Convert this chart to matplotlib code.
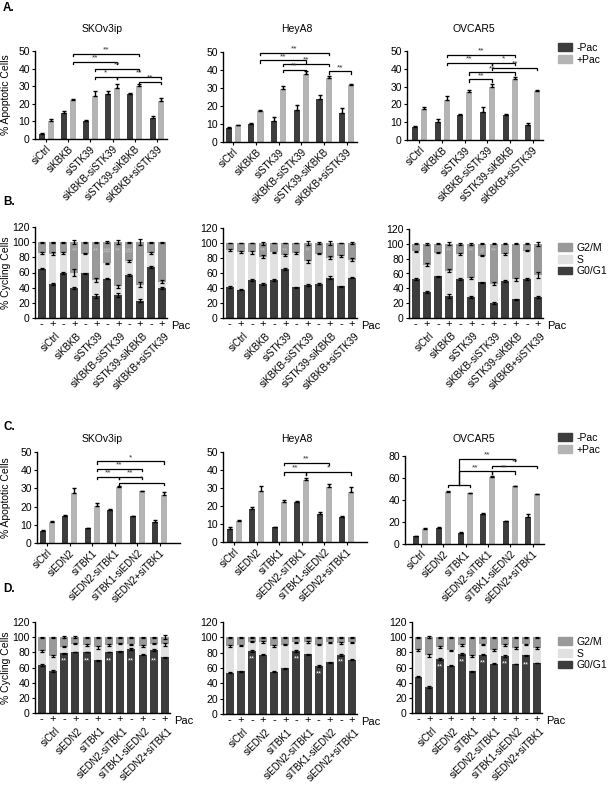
import numpy as np
import matplotlib.pyplot as plt
from matplotlib.patches import Patch

plt.rcParams['font.family'] = ['Liberation Sans', 'DejaVu Sans']

DARK = '#3d3d3d'
LIGHT = '#b4b4b4'
G2M_C = '#999999'
S_C = '#e1e1e1'

W, H = 609, 793

groups_kbkb = ['siCtrl', 'siKBKB', 'siSTK39', 'siKBKB-siSTK39', 'siSTK39-siKBKB', 'siKBKB+siSTK39']
groups_edn = ['siCtrl', 'siEDN2', 'siTBK1', 'siEDN2-siTBK1', 'siTBK1-siEDN2', 'siEDN2+siTBK1']
pac_labels = ['-', '+'] * 6

# ---- A: % apoptotic cells ----
a_sko_minus = [3.0, 15.0, 10.0, 25.5, 25.5, 12.0]
a_sko_minus_err = [0.4, 1.0, 0.6, 1.5, 0.7, 1.0]
a_sko_plus = [10.0, 22.0, 24.5, 29.0, 30.0, 21.5]
a_sko_plus_err = [1.2, 1.0, 2.5, 2.5, 1.2, 1.8]
a_hey_minus = [7.8, 10.2, 11.8, 17.8, 24.0, 16.0]
a_hey_minus_err = [0.4, 0.5, 2.0, 3.0, 2.2, 3.0]
a_hey_plus = [9.2, 17.2, 29.5, 38.0, 35.3, 31.5]
a_hey_plus_err = [0.5, 0.5, 1.5, 1.5, 1.2, 1.0]
a_ovc_minus = [7.5, 10.0, 13.8, 15.5, 14.0, 8.5]
a_ovc_minus_err = [0.4, 2.0, 0.8, 3.0, 0.5, 0.8]
a_ovc_plus = [17.5, 22.5, 27.0, 30.0, 34.5, 27.5]
a_ovc_plus_err = [1.0, 2.5, 1.2, 1.5, 1.0, 0.8]

# brackets: (group a, group b, y, label[, lower end of left leg])
a_sko_brackets = [(1, 4, 48.5, '**'), (1, 3, 44, '**'), (2, 4, 40, '**'),
                  (2, 3, 35.5, '*'), (3, 5, 35.5, '**'), (4, 5, 32.5, '**')]
a_hey_brackets = [(1, 4, 49.4, '**'), (1, 3, 45.3, '**'), (2, 4, 43.5, '**'),
                  (2, 3, 40.1, '**'), (4, 5, 39.2, '**')]
a_ovc_brackets = [(1, 4, 48, '**'), (1, 3, 43.5, '**'), (3, 4, 43.5, '*'),
                  (3, 5, 40.5, '**'), (2, 4, 38, '**'), (2, 3, 34, '**')]

# ---- B: cell cycle ----
b_sko_g1 = [65, 44.5, 59, 39.5, 59, 28.5, 52, 30.5, 56.5, 23, 67, 40]
b_sko_s = [21, 40.5, 27, 20.5, 26, 21.5, 20, 11.5, 18.5, 21, 19, 8]
b_sko_g2m = [14, 15, 14, 40, 15, 50, 28, 58, 25, 56, 14, 52]
b_sko_g1_err = [1, 1.5, 1.5, 1.5, 1, 2.5, 1, 2.5, 1, 2, 1, 1.5]
b_sko_s_err = [1, 2, 1, 4, 1, 2.5, 1, 2, 1.5, 3.5, 1, 2.5]
b_sko_g2m_err = [0.5, 0.5, 0.5, 2.5, 0.5, 0.5, 1, 3, 0.5, 4, 0.5, 0.8]
b_sko_marks = [(3, '**'), (5, '**'), (6, '##'), (7, '**'), (8, '##')]
b_sko_marks_y = [88, 88, 88, 88, 88]

b_hey_g1 = [41.5, 38, 51, 45.5, 51, 65.5, 41, 44, 45.5, 54, 42.5, 54]
b_hey_s = [49.5, 50, 36.5, 36.5, 36.5, 19, 46, 32, 40.5, 26.5, 40, 24]
b_hey_g2m = [9, 12, 12.5, 18, 12.5, 15.5, 13, 24, 14, 19.5, 17.5, 22]
b_hey_g1_err = [1, 1, 1, 1, 1, 1, 1, 1, 1, 1.5, 0.8, 1]
b_hey_s_err = [1, 1.5, 1.5, 2, 1, 1.5, 1, 2, 1, 2, 1, 2.5]
b_hey_g2m_err = [0.5, 0.5, 0.5, 2, 0.5, 0.5, 0.5, 2.5, 1, 2.5, 0.5, 1.5]
b_hey_marks = [(3, '**'), (5, '**'), (7, '**')]
b_hey_marks_y = [89, 89, 89]

b_ovc_g1 = [52.5, 35, 56, 30, 52.5, 28, 48, 20.5, 50, 25, 52.5, 28]
b_ovc_s = [37.5, 37, 32, 34, 34, 26, 36, 25.5, 36, 27, 38.5, 30]
b_ovc_g2m = [10, 28, 12, 36, 13.5, 46, 16, 54, 14, 48, 9, 42]
b_ovc_g1_err = [1, 1.5, 1, 2.5, 1, 1, 1, 1.5, 1, 1, 1, 1]
b_ovc_s_err = [1, 2, 1, 1.5, 1, 1.5, 1, 2, 1, 2, 1, 3.5]
b_ovc_g2m_err = [0.5, 1, 0.5, 2, 1, 1, 0.5, 0.5, 0.5, 0.5, 0.5, 3]
b_ovc_marks = [(3, '**'), (5, '**'), (6, '#'), (7, '**')]
b_ovc_marks_y = [90, 90, 90, 90]

# ---- C: % apoptotic cells ----
c_sko_minus = [6.5, 15.0, 8.0, 18.0, 14.8, 11.8]
c_sko_minus_err = [0.5, 0.5, 0.5, 0.5, 0.3, 0.8]
c_sko_plus = [11.5, 27.5, 20.5, 31.0, 28.3, 26.3]
c_sko_plus_err = [0.6, 2.5, 1.5, 0.4, 0.4, 1.8]
c_hey_minus = [7.5, 18.3, 8.2, 22.0, 15.8, 14.0]
c_hey_minus_err = [0.8, 1.0, 0.3, 0.7, 1.0, 0.4]
c_hey_plus = [11.7, 28.5, 22.5, 34.5, 30.8, 27.8]
c_hey_plus_err = [0.5, 2.5, 1.0, 0.8, 1.5, 2.5]
c_ovc_minus = [7.0, 15.0, 10.0, 27.5, 20.5, 25.0]
c_ovc_minus_err = [0.5, 0.5, 0.5, 0.5, 0.6, 2.5]
c_ovc_plus = [13.8, 47.5, 46.0, 61.0, 52.5, 45.3]
c_ovc_plus_err = [0.5, 0.8, 0.8, 0.8, 0.5, 0.5]

c_sko_brackets = [(2, 5, 44.8, '*'), (2, 4, 40.6, '**'), (2, 3, 36.2, '**'),
                  (3, 4, 36.2, '**'), (3, 5, 33.2, '*')]
c_hey_brackets = [(2, 4, 44.1, '**'), (2, 3, 38.7, '**'), (3, 5, 38.7, '*')]
c_ovc_brackets = [(1, 2, 53.5, ''), (1.5, 4, 77.6, '**', 53.5), (1.5, 3, 66, '**', 53.5),
                  (3, 4, 66, '**'), (3, 5, 70.7, '**')]

# ---- D: cell cycle ----
d_sko_g1 = [63, 55.5, 78.5, 80.5, 80.5, 69.5, 80.5, 81.5, 84, 77, 83, 73.5]
d_sko_s = [18.5, 20, 9, 11, 9, 17, 9, 10, 6.5, 11.5, 8.5, 17]
d_sko_g2m = [18.5, 24.5, 12.5, 8.5, 10.5, 13.5, 10.5, 8.5, 9.5, 11.5, 8.5, 9.5]
d_sko_g1_err = [1, 0.8, 1, 0.5, 0.5, 0.8, 0.5, 0.5, 1.5, 0.5, 1, 0.8]
d_sko_s_err = [1, 1.5, 1, 1, 1, 2, 1, 1, 1, 1, 1, 2]
d_sko_g2m_err = [0.5, 0.5, 1, 1, 0.5, 0.5, 0.5, 0.5, 0.5, 0.5, 0.5, 2.5]
d_sko_marks = [(2, '**'), (4, '**'), (6, '**'), (8, '**'), (10, '**')]
d_sko_marks_y = [69, 69, 69, 69, 69]

d_hey_g1 = [54, 55.5, 82, 77.5, 55, 59.5, 82, 78, 62.5, 67.5, 77, 71]
d_hey_s = [34.5, 34, 12.5, 16.5, 33.5, 31, 11.5, 16, 28, 26, 15.5, 22.5]
d_hey_g2m = [11.5, 10.5, 5.5, 6, 11.5, 9.5, 6.5, 6, 9.5, 6.5, 7.5, 6.5]
d_hey_g1_err = [1, 0.5, 1, 0.8, 0.5, 0.5, 1, 0.8, 0.8, 0.5, 1, 0.8]
d_hey_s_err = [1, 1, 1, 1, 1, 1, 1, 1, 1, 1, 1, 1]
d_hey_g2m_err = [0.5, 0.5, 0.5, 0.5, 0.5, 0.5, 0.5, 1, 0.5, 0.5, 0.5, 1]
d_hey_marks = [(2, '**'), (6, '**'), (8, '**'), (10, '**')]
d_hey_marks_y = [72, 72, 52, 68]

d_ovc_g1 = [48, 34, 71, 62.5, 78, 55, 77, 65, 75.5, 64.5, 76, 66]
d_ovc_s = [35, 42, 16, 20, 12, 20, 13.5, 18, 14.5, 21.5, 14.5, 19.5]
d_ovc_g2m = [17, 24, 13, 17.5, 10, 25, 9.5, 17, 10, 14, 9.5, 14.5]
d_ovc_g1_err = [0.8, 1, 1, 0.5, 1, 0.8, 1, 0.5, 1, 0.5, 1, 0.5]
d_ovc_s_err = [1, 2, 1, 1, 1, 1, 1, 1, 1, 1, 1, 1]
d_ovc_g2m_err = [0.5, 1, 0.5, 0.5, 0.5, 0.5, 0.5, 0.5, 0.5, 0.5, 0.5, 0.5]
d_ovc_marks = [(2, '**'), (4, '**'), (6, '**'), (8, '**'), (10, '**')]
d_ovc_marks_y = [61, 68, 66, 65, 64]

fig = plt.figure(figsize=(W / 100, H / 100), dpi=100)


def rect(x0, x1, ytop, ybot):
    return [x0 / W, 1 - ybot / H, (x1 - x0) / W, (ybot - ytop) / H]


def style(ax):
    for s in ['top', 'right']:
        ax.spines[s].set_visible(False)
    for s in ['left', 'bottom']:
        ax.spines[s].set_linewidth(1.0)
    ax.tick_params(axis='y', labelsize=7.5, length=2.5, width=0.8, pad=1.2)
    ax.tick_params(axis='x', labelsize=7, length=2, width=0.8, pad=1.5)


def add_ylabel(ax, text):
    ax.set_ylabel(text, fontsize=7.5, labelpad=0)
    # anchor in pixels from the figure's left edge
    ax.yaxis.set_label_coords(11.5 / W, 0.5, transform=blend(ax))


def blend(ax):
    from matplotlib.transforms import blended_transform_factory
    return blended_transform_factory(fig.transFigure, ax.transAxes)


def apoptotic(r, groups, minus, minus_err, plus, plus_err, ymax, xlim, brackets, ylabel=False):
    ax = fig.add_axes(r)
    style(ax)
    x = np.arange(len(groups))
    ekw = dict(elinewidth=1.0, capsize=1.6, capthick=1.0, ecolor='black')
    ax.bar(x - 0.2, minus, 0.27, color=DARK, yerr=[np.zeros(len(x)), minus_err], error_kw=ekw)
    ax.bar(x + 0.2, plus, 0.27, color=LIGHT, yerr=[np.zeros(len(x)), plus_err], error_kw=ekw)
    ax.set_xlim(*xlim)
    ax.set_ylim(0, ymax)
    ax.set_yticks(np.arange(0, ymax + 1, 10 if ymax == 50 else 20))
    ax.set_xticks(x)
    ax.set_xticklabels(groups, rotation=45, ha='right', rotation_mode='anchor')
    drop = ymax * 0.025
    for b in brackets:
        g1, g2, y, lab = b[:4]
        x1, x2 = g1 + 0.2, g2 + 0.2
        low1 = b[4] if len(b) > 4 else y - drop
        ax.plot([x1, x1, x2, x2], [low1, y, y, y - drop], color='black', lw=0.9,
                solid_joinstyle='miter', clip_on=False)
        if lab:
            ax.text((x1 + x2) / 2, y + ymax * 0.005, lab, ha='center', va='bottom',
                    fontsize=6, color='#333333')
    if ylabel:
        add_ylabel(ax, '% Apoptotic Cells')
    return ax


def cycling(r, groups, g1, s, g2m, g1_err, s_err, g2m_err, marks, marks_y, mark_color, ylabel=False):
    ax = fig.add_axes(r)
    style(ax)
    x = np.arange(len(g1))
    g1 = np.array(g1, float)
    s = np.array(s, float)
    g2m = np.array(g2m, float)
    ax.bar(x, g1, 0.72, color=DARK)
    ax.bar(x, s, 0.72, bottom=g1, color=S_C)
    ax.bar(x, g2m, 0.72, bottom=g1 + s, color=G2M_C)
    ekw = dict(fmt='none', ecolor='black', elinewidth=0.9, capsize=1.5, capthick=0.9)
    ax.errorbar(x, g1, yerr=g1_err, **ekw)
    ax.errorbar(x, g1 + s, yerr=s_err, **ekw)
    ax.errorbar(x, g1 + s + g2m, yerr=g2m_err, **ekw)
    for (i, lab), yy in zip(marks, marks_y):
        ax.text(i, yy, lab, ha='center', va='center', fontsize=5.5, color=mark_color)
    ax.set_xlim(-0.6, 11.45)
    ax.set_ylim(0, 120)
    ax.set_yticks(np.arange(0, 121, 20))
    ax.set_xticks(x)
    ax.set_xticklabels(pac_labels, fontsize=8)
    ax.tick_params(axis='x', length=0, pad=1)
    for gi, name in enumerate(groups):
        ax.text(2 * gi + 1.2, -0.14, name, transform=ax.get_xaxis_transform(),
                rotation=45, ha='right', va='top', rotation_mode='anchor', fontsize=7)
    ax.text(1.03, -0.085, 'Pac', transform=ax.transAxes, ha='left', va='center', fontsize=8)
    if ylabel:
        add_ylabel(ax, '% Cycling Cells')
    return ax


# Panel A
apoptotic(rect(35, 167, 51, 139), groups_kbkb, a_sko_minus, a_sko_minus_err, a_sko_plus,
          a_sko_plus_err, 50, (-0.5, 5.45), a_sko_brackets, ylabel=True)
apoptotic(rect(223, 357, 52, 142), groups_kbkb, a_hey_minus, a_hey_minus_err, a_hey_plus,
          a_hey_plus_err, 50, (-0.45, 5.45), a_hey_brackets)
apoptotic(rect(407, 543, 51, 140), groups_kbkb, a_ovc_minus, a_ovc_minus_err, a_ovc_plus,
          a_ovc_plus_err, 50, (-0.55, 5.45), a_ovc_brackets)

# Panel B
cycling(rect(35, 167, 227, 318), groups_kbkb, b_sko_g1, b_sko_s, b_sko_g2m, b_sko_g1_err,
        b_sko_s_err, b_sko_g2m_err, b_sko_marks, b_sko_marks_y, '#c4c4c4', ylabel=True)
cycling(rect(223, 357, 228, 318), groups_kbkb, b_hey_g1, b_hey_s, b_hey_g2m, b_hey_g1_err,
        b_hey_s_err, b_hey_g2m_err, b_hey_marks, b_hey_marks_y, '#c4c4c4')
cycling(rect(409, 543, 229, 318), groups_kbkb, b_ovc_g1, b_ovc_s, b_ovc_g2m, b_ovc_g1_err,
        b_ovc_s_err, b_ovc_g2m_err, b_ovc_marks, b_ovc_marks_y, '#c4c4c4')

# Panel C
apoptotic(rect(37, 180, 452, 543), groups_edn, c_sko_minus, c_sko_minus_err, c_sko_plus,
          c_sko_plus_err, 50, (-0.45, 5.9), c_sko_brackets, ylabel=True)
apoptotic(rect(223, 367, 452, 542), groups_edn, c_hey_minus, c_hey_minus_err, c_hey_plus,
          c_hey_plus_err, 50, (-0.5, 5.9), c_hey_brackets)
apoptotic(rect(405, 544, 456, 544), groups_edn, c_ovc_minus, c_ovc_minus_err, c_ovc_plus,
          c_ovc_plus_err, 80, (-0.7, 5.5), c_ovc_brackets)

# Panel D
cycling(rect(35, 170, 622, 713), groups_edn, d_sko_g1, d_sko_s, d_sko_g2m, d_sko_g1_err,
        d_sko_s_err, d_sko_g2m_err, d_sko_marks, d_sko_marks_y, 'white', ylabel=True)
cycling(rect(223, 357, 622, 714), groups_edn, d_hey_g1, d_hey_s, d_hey_g2m, d_hey_g1_err,
        d_hey_s_err, d_hey_g2m_err, d_hey_marks, d_hey_marks_y, 'white')
cycling(rect(412, 542, 622, 713), groups_edn, d_ovc_g1, d_ovc_s, d_ovc_g2m, d_ovc_g1_err,
        d_ovc_s_err, d_ovc_g2m_err, d_ovc_marks, d_ovc_marks_y, 'white')

# titles
for ytxt in (29, 439):
    for xc, name in [(102, 'SKOv3ip'), (297, 'HeyA8'), (474, 'OVCAR5')]:
        fig.text(xc / W, 1 - ytxt / H, name, ha='center', va='center', fontsize=7.5)

# panel letters
for lab, yl in [('A.', 8), ('B.', 202), ('C.', 427), ('D.', 589)]:
    fig.text(3 / W, 1 - yl / H, lab, ha='left', va='center', fontsize=8.5, fontweight='bold')

# legends
pac_handles = [Patch(color=DARK, label='-Pac'), Patch(color=LIGHT, label='+Pac')]
cyc_handles = [Patch(color=G2M_C, label='G2/M'), Patch(color=S_C, label='S'),
               Patch(color=DARK, label='G0/G1')]
legkw = dict(loc='upper left', frameon=False, fontsize=7.5, handlelength=1.3,
             handleheight=0.8, handletextpad=0.5, labelspacing=0.15, borderaxespad=0,
             borderpad=0)
for handles, ytop in [(pac_handles, 43), (cyc_handles, 243), (pac_handles, 433), (cyc_handles, 637)]:
    fig.legend(handles=handles, bbox_to_anchor=(558 / W, 1 - ytop / H), **legkw)

fig.savefig('out.png', dpi=100)
